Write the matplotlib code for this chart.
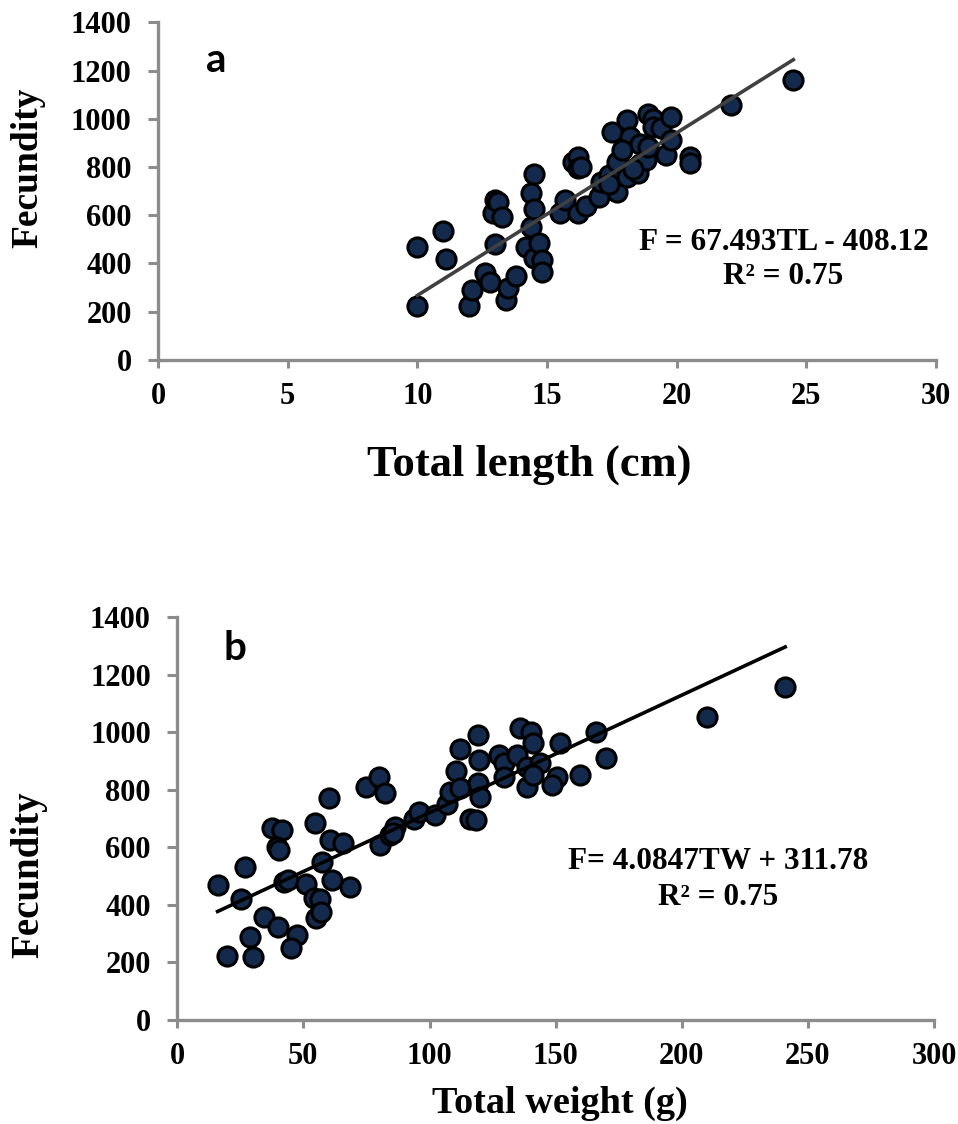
import numpy as np
import matplotlib.pyplot as plt

# panel a: total length (cm) vs fecundity
tl = [10.0, 10.0, 11.0, 11.1, 12.0, 12.1, 12.6, 12.8, 12.9, 13.0, 13.1, 13.25,
      13.0, 13.4, 13.5, 13.8, 14.2, 14.4, 14.4, 14.5, 14.5, 14.5, 14.7, 14.8,
      14.8, 15.5, 15.7, 16.0, 16.2, 16.2, 16.2, 16.3, 16.5, 17.0, 17.1, 17.4,
      17.5, 17.7, 17.7, 17.4, 18.1, 18.1, 18.2, 18.6, 18.6, 18.5, 18.9, 18.8,
      19.1, 19.1, 19.4, 18.9, 19.6, 19.8, 19.8, 20.5, 20.5, 22.1, 24.5, 17.9,
      18.3]
fec_a = [469, 224, 536, 418, 221, 290, 359, 324, 608, 663, 655, 594,
         479, 249, 297, 348, 469, 550, 690, 770, 624, 421, 483, 414,
         366, 610, 663, 820, 842, 608, 794, 801, 640, 677, 739, 766,
         946, 821, 697, 730, 994, 759, 925, 897, 814, 773, 1022, 828,
         1001, 966, 960, 884, 849, 1008, 911, 842, 815, 1056, 1160, 870,
         790]
fit_a = (67.493, -408.12)

# panel b: total weight (g) vs fecundity
tw = [16.0, 19.9, 27.0, 25.2, 28.9, 30.0, 34.2, 37.5, 41.5, 39.5, 40.2, 39.8,
      42.4, 44.0, 47.4, 45.2, 51.1, 54.7, 60.0, 54.3, 56.5, 55.1, 57.0, 57.3,
      60.4, 65.9, 61.3, 68.6, 74.9, 80.0, 82.4, 80.2, 84.4, 86.4, 85.7, 93.7,
      95.7, 102.3, 106.9, 108.2, 110.6, 112.2, 112.2, 119.4, 119.8, 119.4, 120.1,
      116.1, 118.6, 127.4, 129.6, 129.6, 134.6, 135.7, 140.2, 141.2, 138.6,
      138.6, 143.9, 141.0, 151.8, 150.5, 148.5, 159.7, 166.1, 170.0, 210.0,
      241.0]
fec_b = [469, 222, 533, 420, 289, 220, 357, 666, 660, 602, 590, 324,
         480, 485, 295, 249, 472, 683, 770, 423, 420, 353, 375, 550,
         625, 614, 486, 461, 810, 845, 790, 608, 643, 671, 650, 700,
         723, 712, 752, 793, 866, 940, 805, 990, 905, 822, 776,
         700, 695, 920, 892, 845, 920, 1013, 1002, 961, 880,
         810, 892, 850, 961, 845, 816, 851, 1001, 909, 1052,
         1157]
fit_b = (4.0847, 311.78)

serif = 'Liberation Serif'
dot_face = '#142a4c'
spine_col = '#8c8c8c'

fig = plt.figure(figsize=(9.58, 11.24), dpi=100)
ax_a = fig.add_axes([0.165, 0.680, 0.812, 0.300])
ax_b = fig.add_axes([0.185, 0.0925, 0.790, 0.3585])


def style_axes(ax, xlim, xticks, xlabel, xsize, xlab_pos, ysize, ylab_pos):
    ax.set_xlim(*xlim)
    ax.set_ylim(0, 1400)
    ax.set_xticks(xticks)
    ax.set_yticks(np.arange(0, 1401, 200))
    for side in ['top', 'right']:
        ax.spines[side].set_visible(False)
    for side in ['left', 'bottom']:
        ax.spines[side].set_color(spine_col)
        ax.spines[side].set_linewidth(2.4)
    ax.tick_params(direction='out', width=2.2, color=spine_col, labelsize=22)
    ax.tick_params(axis='x', length=6, pad=10)
    ax.tick_params(axis='y', length=7, pad=12)
    for lab in ax.get_xticklabels() + ax.get_yticklabels():
        lab.set_fontfamily(serif)
        lab.set_fontweight('bold')
    ax.set_xlabel(xlabel, fontsize=xsize, fontweight='bold', family=serif)
    ax.set_ylabel('Fecundity', fontsize=ysize, fontweight='bold', family=serif)
    ax.xaxis.set_label_coords(*xlab_pos)
    ax.xaxis.label.set_va('center')
    ax.yaxis.set_label_coords(*ylab_pos)
    ax.yaxis.label.set_va('center')


# panel a
x_line = np.array([min(tl), max(tl)])
ax_a.plot(x_line, fit_a[0] * x_line + fit_a[1], color='#404040', lw=2.6,
          zorder=3)
ax_a.scatter(tl, fec_a, s=190, c=dot_face, edgecolors='black',
             linewidths=2.2, zorder=2)
style_axes(ax_a, (0, 30), np.arange(0, 31, 5), 'Total length (cm)', 32,
           (0.477, -0.311), 27, (-0.167, 0.570))
ax_a.text(0.0745, 0.888, 'a', transform=ax_a.transAxes, fontsize=29,
          fontweight='bold', family='Lato', ha='center', va='center')
ax_a.text(0.804, 0.325, 'F = 67.493TL - 408.12', transform=ax_a.transAxes,
          ha='center', va='baseline', fontsize=22.5, fontweight='bold',
          family=serif)
ax_a.text(0.804, 0.225, 'R² = 0.75', transform=ax_a.transAxes,
          ha='center', va='baseline', fontsize=22.5, fontweight='bold',
          family=serif)

# panel b
x_line = np.array([min(tw), max(tw)])
ax_b.plot(x_line, fit_b[0] * x_line + fit_b[1], color='black', lw=2.6,
          zorder=3)
ax_b.scatter(tw, fec_b, s=190, c=dot_face, edgecolors='black',
             linewidths=2.2, zorder=2)
style_axes(ax_b, (0, 300), np.arange(0, 301, 50), 'Total weight (g)', 27.5,
           (0.505, -0.208), 28, (-0.1955, 0.360))
ax_b.text(0.076, 0.921, 'b', transform=ax_b.transAxes, fontsize=29,
          fontweight='bold', family='Lato', ha='center', va='center')
ax_b.text(0.715, 0.375, 'F= 4.0847TW + 311.78', transform=ax_b.transAxes,
          ha='center', va='baseline', fontsize=22.5, fontweight='bold',
          family=serif)
ax_b.text(0.715, 0.285, 'R² = 0.75', transform=ax_b.transAxes,
          ha='center', va='baseline', fontsize=22.5, fontweight='bold',
          family=serif)

fig.savefig('out.png', dpi=100)
